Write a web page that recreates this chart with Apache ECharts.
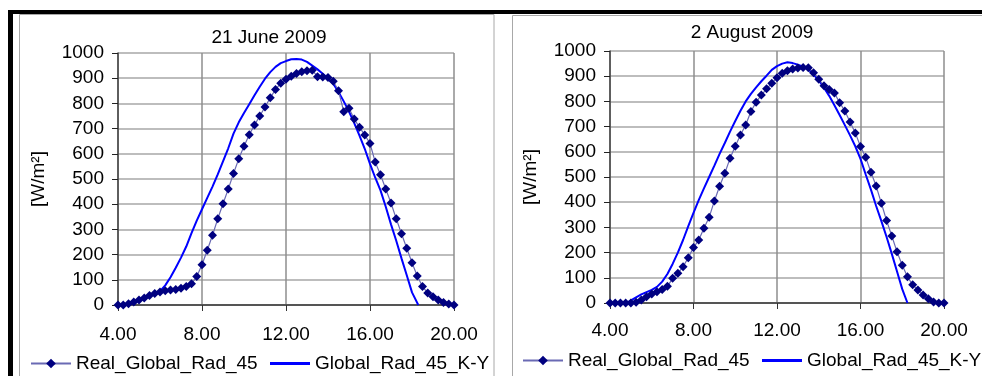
<!DOCTYPE html>
<html>
<head>
<meta charset="utf-8">
<script src="https://cdn.jsdelivr.net/npm/echarts@6/dist/echarts.min.js"></script>
<style>
  html, body { margin: 0; padding: 0; background: #fff; }
  #chart { width: 982px; height: 376px; }
</style>
</head>
<body>
<div id="chart"></div>
<script>
// Time of day (hours) of the 15-minute measurements
const hours = [
  4.00, 4.25, 4.50, 4.75, 5.00, 5.25, 5.50, 5.75, 6.00, 6.25, 6.50, 6.75, 7.00,
  7.25, 7.50, 7.75, 8.00, 8.25, 8.50, 8.75, 9.00, 9.25, 9.50, 9.75, 10.00,
  10.25, 10.50, 10.75, 11.00, 11.25, 11.50, 11.75, 12.00, 12.25, 12.50, 12.75, 13.00,
  13.25, 13.50, 13.75, 14.00, 14.25, 14.50, 14.75, 15.00, 15.25, 15.50, 15.75, 16.00,
  16.25, 16.50, 16.75, 17.00, 17.25, 17.50, 17.75, 18.00, 18.25, 18.50, 18.75, 19.00,
  19.25, 19.50, 19.75, 20.00
];

// Measured global radiation on the 45° plane [W/m2]
const realJune = [
  0, 0, 5, 12, 20, 28, 38, 46, 52, 57, 60, 62, 66,
  73, 84, 113, 160, 217, 277, 342, 402, 460, 522, 580, 630,
  676, 714, 750, 786, 822, 855, 880, 896, 908, 919, 926, 930,
  932, 906, 905, 903, 888, 850, 767, 781, 738, 705, 675, 641,
  567, 517, 460, 405, 342, 283, 225, 168, 115, 73, 48, 33,
  20, 10, 4, 0
];
const realAugust = [
  0, 0, 0, 0, 0, 3, 12, 25, 36, 45, 54, 66, 98,
  118, 144, 180, 220, 250, 297, 340, 405, 463, 515, 574, 622,
  667, 706, 760, 797, 825, 850, 872, 894, 912, 922, 929, 933,
  935, 934, 914, 888, 862, 847, 833, 795, 762, 718, 675, 621,
  578, 519, 464, 396, 327, 266, 203, 150, 104, 72, 52, 32,
  17, 4, 0, 0
];

// Modelled (K-Y) global radiation on the 45° plane [W/m2]
const kyJuneHours = [
  6.00, 6.25, 6.50, 6.75, 7.00, 7.25, 7.50, 7.75, 8.00, 8.25, 8.50, 8.75, 9.00,
  9.25, 9.50, 9.75, 10.00, 10.25, 10.50, 10.75, 11.00, 11.25, 11.50, 11.75, 12.00,
  12.25, 12.50, 12.75, 13.00, 13.25, 13.50, 13.75, 14.00, 14.25, 14.50, 14.75, 15.00,
  15.25, 15.50, 15.75, 16.00, 16.25, 16.50, 16.75, 17.00, 17.25, 17.50, 17.75, 18.00,
  18.30
];
const kyJune = [
  55, 78, 110, 148, 188, 232, 285, 335, 380, 425, 470, 518, 570,
  622, 680, 725, 762, 797, 832, 866, 898, 924, 945, 960, 968,
  975, 976, 974, 965, 950, 935, 918, 900, 878, 845, 808, 768,
  722, 672, 620, 560, 505, 455, 390, 320, 255, 185, 118, 50,
  0
];
const kyAugustHours = [
  4.80, 5.00, 5.25, 5.50, 5.75, 6.00, 6.25, 6.50, 6.75, 7.00, 7.25, 7.50, 7.75,
  8.00, 8.25, 8.50, 8.75, 9.00, 9.25, 9.50, 9.75, 10.00, 10.25, 10.50, 10.75,
  11.00, 11.25, 11.50, 11.75, 12.00, 12.25, 12.50, 12.75, 13.00, 13.25, 13.50, 13.75,
  14.00, 14.25, 14.50, 14.75, 15.00, 15.25, 15.50, 15.75, 16.00, 16.25, 16.50, 16.75,
  17.00, 17.25, 17.50, 17.75, 18.00, 18.25
];
const kyAugust = [
  0, 10, 22, 34, 43, 52, 64, 85, 115, 155, 200, 250, 305,
  358, 408, 455, 500, 545, 592, 635, 680, 722, 763, 800, 830,
  856, 880, 902, 925, 940, 950, 955, 952, 946, 938, 928, 906,
  884, 854, 822, 785, 746, 706, 665, 622, 572, 510, 450, 385,
  325, 262, 195, 125, 55, 0
];

const panelTitles = ['21 June 2009', '2 August 2009'];
const seriesNames = ['Real_Global_Rad_45', 'Global_Rad_45_K-Y'];
const yAxisName = '[W/m²]';

const FONT = '"Liberation Sans", Arial, sans-serif';
const pair = (xs, ys) => xs.map((x, i) => [x, ys[i]]);

function xAxisFor(gridIndex, margin) {
  return {
    type: 'value', gridIndex, min: 4, max: 20, interval: 4,
    axisLine: { onZero: false, lineStyle: { color: '#555', width: 2 } },
    axisTick: { show: true, length: 6, lineStyle: { color: '#333', width: 1 } },
    axisLabel: { margin, color: '#000', fontFamily: FONT, fontSize: 19,
      formatter: v => v.toFixed(2) },
    splitLine: { show: true, lineStyle: { color: '#8e8e8e', width: 1.5 } }
  };
}
function yAxisFor(gridIndex) {
  return {
    type: 'value', gridIndex, min: 0, max: 1000, interval: 100,
    name: yAxisName, nameLocation: 'middle', nameRotate: 90, nameGap: 70,
    nameTextStyle: { color: '#000', fontFamily: FONT, fontSize: 19 },
    axisLine: { show: true, lineStyle: { color: '#444', width: 1.5 } },
    axisTick: { show: true, length: 6, lineStyle: { color: '#222', width: 1 } },
    axisLabel: { margin: 14, color: '#000', fontFamily: FONT, fontSize: 19,
      formatter: v => String(v) },
    splitLine: { show: true, lineStyle: { color: '#bdbdbd', width: 2 } }
  };
}
function realSeries(idx, data) {
  return {
    name: seriesNames[0], type: 'line', xAxisIndex: idx, yAxisIndex: idx,
    data, symbol: 'diamond', symbolSize: 9, showSymbol: true,
    lineStyle: { color: '#6a6ab4', width: 1.2 },
    itemStyle: { color: '#000080', borderWidth: 0 },
    z: 3
  };
}
function kySeries(idx, data) {
  return {
    name: seriesNames[1], type: 'line', xAxisIndex: idx, yAxisIndex: idx,
    data, symbol: 'none', showSymbol: false,
    lineStyle: { color: '#0000ff', width: 2 },
    itemStyle: { color: '#0000ff' },
    z: 2
  };
}
// one legend entry per component so each can sit at its own spot
function legendItem(name, left, top, plainLine) {
  const entry = plainLine ? { name, icon: 'rect', itemStyle: { color: '#0000ff' } } : name;
  return {
    left, top, orient: 'horizontal', itemWidth: 40, itemHeight: plainLine ? 3 : 12,
    selectedMode: false, data: [entry],
    textStyle: { color: '#000', fontFamily: FONT, fontSize: 19 }
  };
}

const chart = echarts.init(document.getElementById('chart'), null, { renderer: 'canvas' });
chart.setOption({
  animation: false,
  backgroundColor: '#fff',
  title: [
    { text: panelTitles[0], left: 264, top: 23, textAlign: 'center',
      textStyle: { color: '#000', fontFamily: FONT, fontSize: 19, fontWeight: 'normal' } },
    { text: panelTitles[1], left: 747, top: 18, textAlign: 'center',
      textStyle: { color: '#000', fontFamily: FONT, fontSize: 19, fontWeight: 'normal' } }
  ],
  legend: [
    legendItem(seriesNames[0], 25, 349, false),
    legendItem(seriesNames[1], 265, 349, true),
    legendItem(seriesNames[0], 517, 346, false),
    legendItem(seriesNames[1], 757, 346, true)
  ],
  grid: [
    { left: 118, top: 53, width: 336, height: 252 },
    { left: 610, top: 51, width: 334, height: 252 }
  ],
  xAxis: [xAxisFor(0, 20), xAxisFor(1, 18)],
  yAxis: [yAxisFor(0), yAxisFor(1)],
  series: [
    kySeries(0, pair(kyJuneHours, kyJune)),
    realSeries(0, pair(hours, realJune)),
    kySeries(1, pair(kyAugustHours, kyAugust)),
    realSeries(1, pair(hours, realAugust))
  ],
  graphic: [
    // panel frames
    { type: 'rect', shape: { x: 19.5, y: 14.5, width: 474.5, height: 380 }, silent: true,
      style: { fill: 'none', stroke: '#a8a8a8', lineWidth: 1 } },
    { type: 'rect', shape: { x: 512.5, y: 15.5, width: 500, height: 380 }, silent: true,
      style: { fill: 'none', stroke: '#a8a8a8', lineWidth: 1 } },
    // page rules
    { type: 'rect', shape: { x: 8, y: 10, width: 974, height: 4 }, silent: true,
      style: { fill: '#000' } },
    { type: 'rect', shape: { x: 8, y: 10, width: 5, height: 366 }, silent: true,
      style: { fill: '#000' } }
  ]
});
</script>
</body>
</html>
